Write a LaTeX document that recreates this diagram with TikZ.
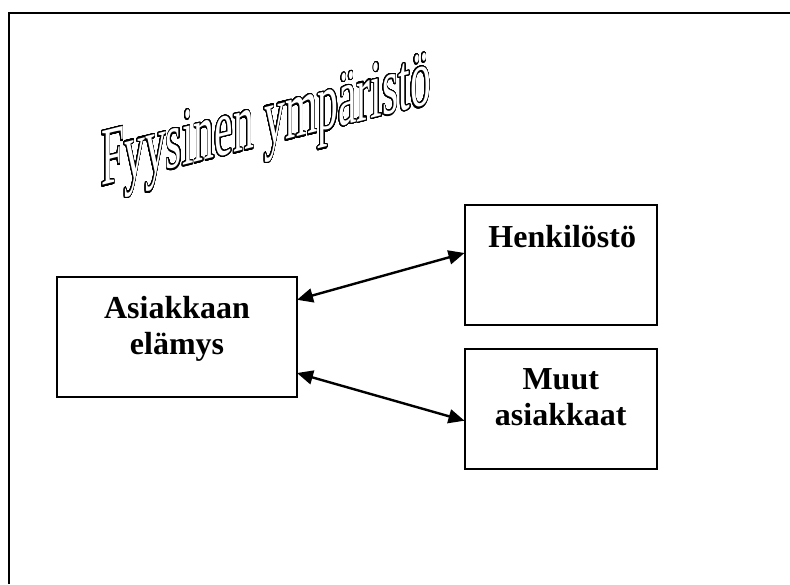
\documentclass[tikz,border=0pt]{standalone}
\usepackage{fontspec}
\setmainfont{Liberation Serif}
\usepackage[copies]{contour}
\usetikzlibrary{arrows.meta,calc}
\contourlength{1.3pt}
\contournumber{48}

\tikzset{
  frameline/.style={line width=2.2pt, line join=miter},
  box/.style={draw, line width=2pt, inner sep=0pt, outer sep=0pt},
  lbl/.style={font=\fontsize{32}{36}\selectfont\bfseries, align=center, inner sep=0pt},
  link/.style={line width=2.4pt,
    {Triangle[length=16pt,width=14pt]}-{Triangle[length=16pt,width=14pt]}},
  wordart/.style={font=\fontsize{82}{90}\selectfont, text=white,
    inner sep=0pt, transform shape}
}

\begin{document}
\begin{tikzpicture}[x=1pt,y=-1pt]
  \useasboundingbox (0,0) rectangle (790,584);
  \fill[white] (0,0) rectangle (790,584);

  % page frame (only its left and top sides are in view)
  \draw[frameline] (9,584) -- (9,13.3) -- (790,13.3);

  % slanted outlined title
  \begin{scope}[shift={(101,186)}, yslant=0.25, xscale=0.508]
    \node[wordart, anchor=base west] (title) at (0,0)
      {\contour{black}{Fyysinen ympäristö}};
  \end{scope}

  % boxes
  \node[box, minimum width=240pt, minimum height=120pt] (asi) at (177,337) {};
  \node[box, minimum width=192.5pt, minimum height=120pt] (hen) at (560.75,265) {};
  \node[box, minimum width=192.5pt, minimum height=119.5pt] (muu) at (560.75,408.75) {};

  % box labels
  \node[lbl, anchor=base] (hentxt) at ([xshift=1.5pt,yshift=-42.3pt]hen.north) {Henkilöstö};
  \node[lbl] (asitxt) at ([yshift=8.4pt]asi.center) {Asiakkaan\\elämys};
  \node[lbl] (muutxt) at ([yshift=11.35pt]muu.center) {Muut\\asiakkaat};

  % two-way links
  \draw[link] ($(asi.north east)!0.19!(asi.south east)$)
           -- ($(hen.north west)!0.40!(hen.south west)$);
  \draw[link] ($(asi.north east)!0.80!(asi.south east)$)
           -- ($(muu.north west)!0.60!(muu.south west)$);
\end{tikzpicture}
\end{document}
